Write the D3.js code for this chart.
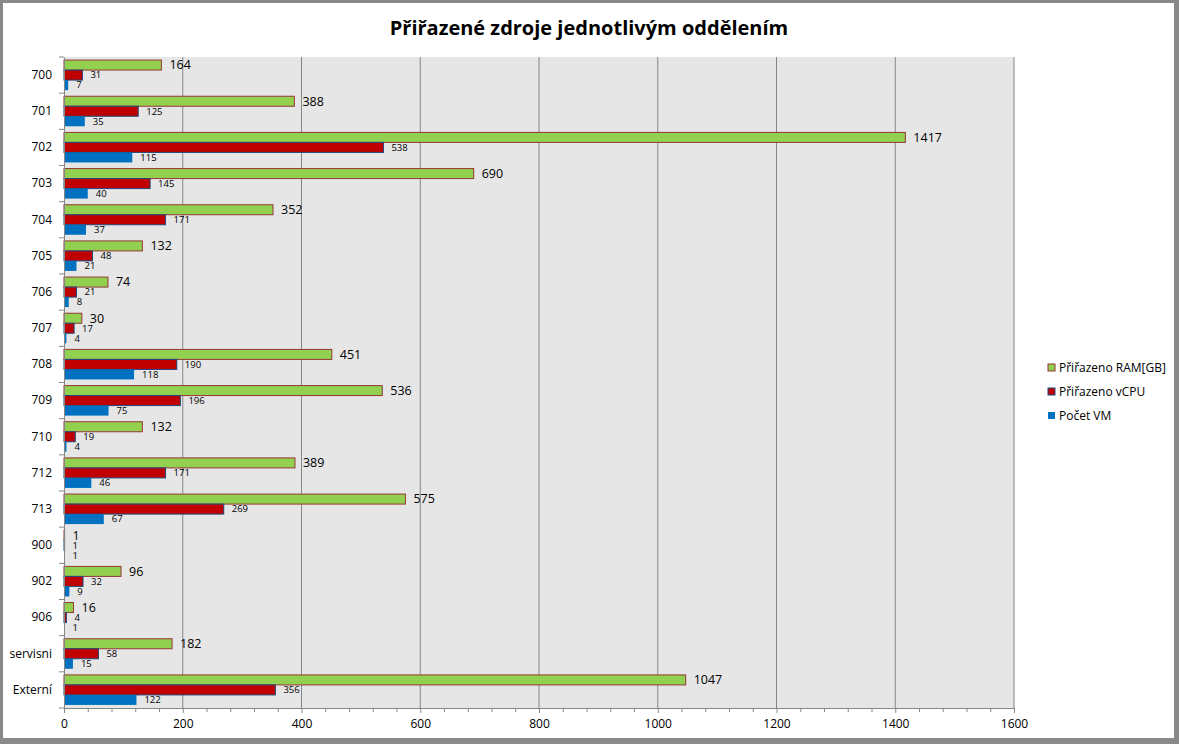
<!DOCTYPE html>
<html>
<head>
<meta charset="utf-8">
<script src="https://cdn.jsdelivr.net/npm/d3@7"></script>
<style>
  body { margin: 0; background: #fff; }
  text { font-family: "Open Sans", "Noto Sans", sans-serif; fill: #000; }
</style>
</head>
<body>
<div id="chart"></div>
<script>
var categories = ["700", "701", "702", "703", "704", "705", "706", "707", "708", "709",
  "710", "712", "713", "900", "902", "906", "servisni", "Externí"];
var ramValues = [164, 388, 1417, 690, 352, 132, 74, 30, 451, 536, 132, 389, 575, 1, 96, 16, 182, 1047];
var cpuValues = [31, 125, 538, 145, 171, 48, 21, 17, 190, 196, 19, 171, 269, 1, 32, 4, 58, 356];
var vmValues = [7, 35, 115, 40, 37, 21, 8, 4, 118, 75, 4, 46, 67, 1, 9, 1, 15, 122];
var seriesNames = ["Přiřazeno RAM[GB]", "Přiřazeno vCPU", "Počet VM"];
var xTicks = [0, 200, 400, 600, 800, 1000, 1200, 1400, 1600];

var svgWidth = 1179;
var svgHeight = 744;

var margin = { top: 57, right: 165, bottom: 36, left: 64 };
var width = svgWidth - margin.left - margin.right;
var height = svgHeight - margin.top - margin.bottom;

var series = [
  { name: seriesNames[0], values: ramValues, fill: "#92D050", stroke: "#953735", font: 12.5 },
  { name: seriesNames[1], values: cpuValues, fill: "#C00000", stroke: "#1F497D", font: 9.5 },
  { name: seriesNames[2], values: vmValues, fill: "#0070C0", stroke: "none", font: 9.5 }
];

var svg = d3.select("#chart")
  .append("svg")
  .attr("width", svgWidth)
  .attr("height", svgHeight);

// frame
svg.append("rect")
  .attr("width", svgWidth).attr("height", svgHeight)
  .attr("fill", "#898989");
svg.append("rect")
  .attr("x", 3).attr("y", 3)
  .attr("width", svgWidth - 8).attr("height", svgHeight - 9)
  .attr("fill", "#fff");

svg.append("text")
  .attr("x", 589)
  .attr("y", 35)
  .attr("text-anchor", "middle")
  .style("font-size", "20px")
  .style("font-weight", "bold")
  .text("Přiřazené zdroje jednotlivým oddělením");

var chartGroup = svg.append("g")
  .attr("transform", `translate(${margin.left}, ${margin.top})`);

var xScale = d3.scaleLinear().domain([0, 1600]).range([0, width]);
var yScale = d3.scaleBand().domain(categories).range([0, height]).paddingInner(0.17).paddingOuter(0.085);
var subScale = d3.scaleBand().domain([0, 1, 2]).range([0, yScale.bandwidth()]);

chartGroup.append("rect")
  .attr("width", width).attr("height", height)
  .attr("fill", "#E6E6E6");

// gridlines
chartGroup.selectAll(".grid")
  .data(xTicks.slice(1))
  .enter()
  .append("line")
  .attr("x1", d => xScale(d)).attr("x2", d => xScale(d))
  .attr("y1", 0).attr("y2", height)
  .attr("stroke", "#868686");

// bars
series.forEach(function (s, i) {
  var g = chartGroup.append("g");
  g.selectAll("rect")
    .data(s.values)
    .enter()
    .append("rect")
    .attr("x", 0)
    .attr("y", (d, j) => yScale(categories[j]) + subScale(i))
    .attr("width", d => xScale(d))
    .attr("height", subScale.bandwidth())
    .attr("fill", s.fill)
    .attr("stroke", s.stroke)
    .attr("stroke-width", 1);

  g.selectAll("text")
    .data(s.values)
    .enter()
    .append("text")
    .attr("x", d => xScale(d) + 8)
    .attr("y", (d, j) => yScale(categories[j]) + subScale(i) + subScale.bandwidth() / 2)
    .attr("dy", "0.35em")
    .style("font-size", s.font + "px")
    .text(d => d);
});

// x axis
var bottomAxis = d3.axisBottom(xScale).tickValues(xTicks).tickSize(5).tickPadding(6).tickFormat(d3.format("d"));
var xAxis = chartGroup.append("g")
  .attr("transform", `translate(0, ${height})`)
  .call(bottomAxis);
xAxis.selectAll("text").style("font-size", "12px");
xAxis.select(".domain").attr("stroke", "#868686");
xAxis.selectAll(".tick line").attr("stroke", "#868686");

var minorAxis = d3.axisBottom(xScale)
  .tickValues(d3.range(40, 1600, 40).filter(d => d % 200 !== 0))
  .tickSize(4).tickFormat("");
var xMinor = chartGroup.append("g")
  .attr("transform", `translate(0, ${height})`)
  .call(minorAxis);
xMinor.select(".domain").remove();
xMinor.selectAll(".tick line").attr("stroke", "#868686");

// y axis
var leftAxis = d3.axisLeft(yScale).tickSize(0).tickPadding(12);
var yAxis = chartGroup.append("g").call(leftAxis);
yAxis.selectAll("text").style("font-size", "12px");
yAxis.select(".domain").attr("stroke", "#868686");

var step = height / categories.length;
chartGroup.selectAll(".ytick")
  .data(d3.range(categories.length + 1))
  .enter()
  .append("line")
  .attr("x1", -5).attr("x2", 0)
  .attr("y1", d => d * step).attr("y2", d => d * step)
  .attr("stroke", "#868686");

// legend
var legend = svg.append("g")
  .attr("transform", "translate(1048, 368)");
series.forEach(function (s, i) {
  var row = legend.append("g").attr("transform", `translate(0, ${i * 24})`);
  row.append("rect")
    .attr("x", 0).attr("y", -4)
    .attr("width", 7).attr("height", 7)
    .attr("fill", s.fill)
    .attr("stroke", s.stroke);
  row.append("text")
    .attr("x", 11)
    .attr("y", 0)
    .attr("dy", "0.35em")
    .style("font-size", "12px")
    .text(s.name);
});
</script>
</body>
</html>
